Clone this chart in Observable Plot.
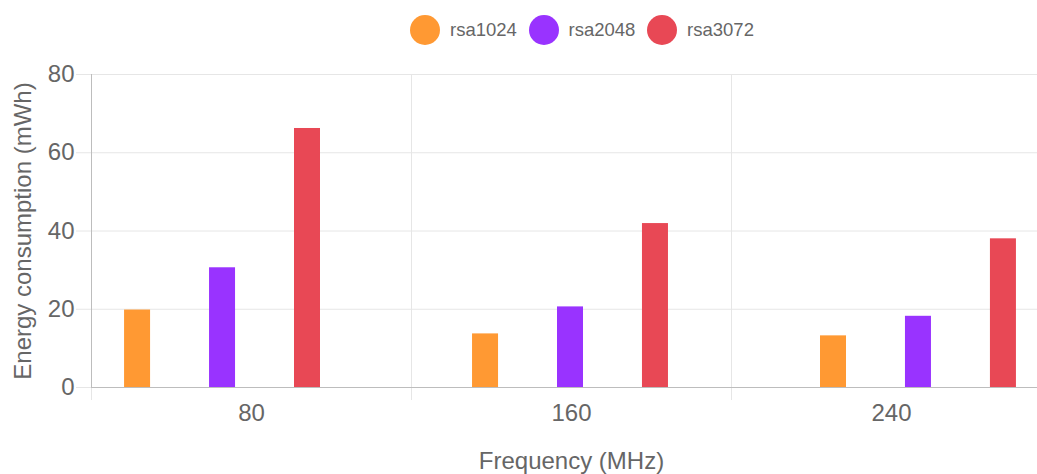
<!DOCTYPE html>
<html>
<head>
<meta charset="utf-8">
<script src="https://cdn.jsdelivr.net/npm/d3@7"></script>
<script src="https://cdn.jsdelivr.net/npm/@observablehq/plot@0.6"></script>
<style>
  html, body { margin: 0; padding: 0; background: #fff; overflow: hidden; }
  #wrap { position: relative; width: 1037px; height: 474px; overflow: hidden; font-family: "Liberation Sans", Arial, sans-serif; }
  #legend { position: absolute; top: 15px; left: 0; height: 30px; padding-left: 410px; display: flex; align-items: center; }
  .item { display: flex; align-items: center; margin-right: 11.7px; }
  .dot { width: 30px; height: 30px; border-radius: 50%; margin-right: 10px; }
  .lab { font-size: 18.5px; color: #666; white-space: nowrap; }
  .layer { position: absolute; top: 58px; left: 0; }
</style>
</head>
<body>
<div id="wrap">
  <div id="legend"></div>
  <div id="layerA" class="layer"></div>
  <div id="layerB" class="layer"></div>
</div>
<script>
// ---- data ----
const categories = ["80", "160", "240"];
const series = ["rsa1024", "rsa2048", "rsa3072"];
const rsa1024 = [19.8, 13.7, 13.2];
const rsa2048 = [30.6, 20.6, 18.2];
const rsa3072 = [66.2, 41.9, 38.0];
const colors = ["#ff9933", "#9933ff", "#e84855"];
const yTicks = [0, 20, 40, 60, 80];
const xTitle = "Frequency (MHz)";
const yTitle = "Energy consumption (mWh)";

const values = [rsa1024, rsa2048, rsa3072];
const data = categories.flatMap((c, i) => series.map((s, j) => ({freq: c, series: s, value: values[j][i]})));

// ---- legend ----
const legend = document.getElementById("legend");
series.forEach((s, j) => {
  const it = document.createElement("div");
  it.className = "item";
  it.innerHTML = `<span class="dot" style="background:${colors[j]}"></span><span class="lab">${s}</span>`;
  legend.appendChild(it);
});

const font = "Liberation Sans, Arial, sans-serif";
const H = 416, MT = 16, MB = 87;

// ---- layer A: grid, axes, titles ----
const plotA = Plot.plot({
  width: 1051, height: H, marginTop: MT, marginBottom: MB, marginLeft: 91, marginRight: 0,
  style: {maxWidth: "none", background: "transparent", fontFamily: font, color: "#666", overflow: "visible"},
  x: {type: "linear", domain: [0, categories.length]},
  y: {domain: [0, 80]},
  marks: [
    Plot.gridY(yTicks, {stroke: "#e6e6e6", strokeOpacity: 1}),
    Plot.gridX(d3.range(1, categories.length + 1), {stroke: "#e6e6e6", strokeOpacity: 1}),
    Plot.axisY(yTicks, {tickSize: 15, tickPadding: 2, stroke: "#e6e6e6", fill: "#666", fontSize: 24,
      label: yTitle, labelAnchor: "center", labelOffset: 78, labelArrow: "none"}),
    Plot.axisX(d3.range(0, categories.length + 1), {tickSize: 13, stroke: "#e6e6e6", tickFormat: () => "", label: null}),
    Plot.axisX(categories.map((c, i) => i + 0.5), {tickSize: 0, tickPadding: 16,
      tickFormat: v => categories[Math.floor(v)], fill: "#666", fontSize: 24,
      label: xTitle, labelAnchor: "center", labelOffset: 81, labelArrow: "none"}),
    Plot.ruleY([0], {stroke: "#bdbdbd"}),
    Plot.ruleX([0], {stroke: "#bdbdbd"})
  ]
});
document.getElementById("layerA").appendChild(plotA);

// ---- layer B: grouped bars ----
const plotB = Plot.plot({
  width: 1109, height: H, marginTop: MT, marginBottom: MB, marginLeft: 31, marginRight: 0,
  style: {maxWidth: "none", background: "transparent", fontFamily: font},
  fx: {domain: categories, paddingInner: 0.098, paddingOuter: 0.098, round: false, axis: null, label: null},
  x: {domain: series, paddingInner: 0.694, paddingOuter: 0.694, round: false, axis: null},
  y: {domain: [0, 80], axis: null},
  color: {domain: series, range: colors},
  marks: [
    Plot.barY(data, {fx: "freq", x: "series", y: "value", fill: "series", inset: 0})
  ]
});
document.getElementById("layerB").appendChild(plotB);
</script>
</body>
</html>
